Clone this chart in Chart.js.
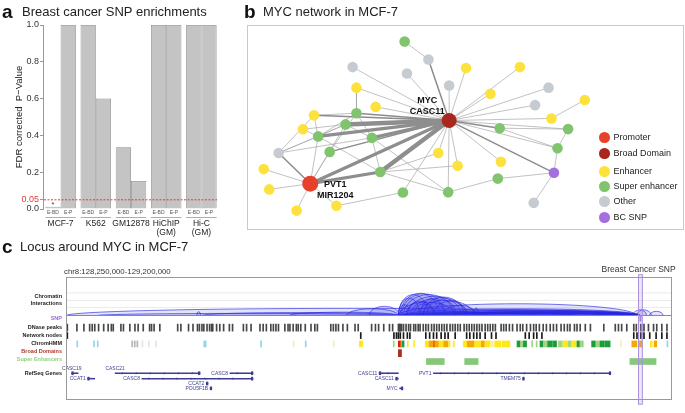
<!DOCTYPE html>
<html>
<head>
<meta charset="utf-8">
<title>Breast cancer SNP enrichments / MYC network / MYC locus</title>
<script src="https://cdn.jsdelivr.net/npm/chart.js@4.4.1/dist/chart.umd.min.js"></script>
<style>
  html, body { margin: 0; padding: 0; background: #fff; }
  body { position: relative; width: 685px; height: 413px; overflow: hidden;
         font-family: "Liberation Sans", Arial, Helvetica, sans-serif; color: #222; }
  canvas, .txt, .box, .dot { position: absolute; }
  .txt { white-space: nowrap; line-height: 1; }
  .letter { font-weight: bold; color: #111; }
  .box { border: 1px solid #c9c9c9; pointer-events: none; }
  .dot { border-radius: 50%; }
</style>
</head>
<body>
<canvas id="chartA" width="240" height="222" style="left:0;top:18px"></canvas>
<canvas id="chartB" width="436" height="204" style="left:248px;top:25px"></canvas>
<div class="box" style="left:247px;top:25px;width:435px;height:203px"></div>
<canvas id="chartC" width="685" height="151" style="left:0;top:262px"></canvas>
<script>
const FONT = '"Liberation Sans", Arial, sans-serif';

// ---------- panel a: SNP enrichment ----------
const groups = ['MCF-7', 'K562', 'GM12878', 'HiChIP', 'Hi-C'];
const groupNotes = ['', '', '', '(GM)', '(GM)'];
const testNames = ['E-BD', 'E-P'];
const fdrEBD = [0.012, 1.0, 0.336, 1.0, 1.0];
const fdrEP = [1.0, 0.6, 0.152, 1.0, 1.0];
const fdrCutoff = 0.05;
const yTicksA = [0, 0.05, 0.2, 0.4, 0.6, 0.8, 1.0];

// ---------- panel b: MYC network ----------
const nodeKinds = ['P', 'B', 'E', 'S', 'O', 'X'];
const nodeKindNames = ['Promoter', 'Broad Domain', 'Enhancer', 'Super enhancer', 'Other', 'BC SNP'];
const nodeKindColors = ['#e8412b', '#a8281d', '#fde23e', '#80c46d', '#c6cbd2', '#a56ee0'];
// [id, kind, layout x, layout y]
const networkNodes = [
  ['MYC', 'B', 200.5, 95], ['PVT1', 'P', 56.3, 163.5],
  ['g1', 'S', 154.3, 9.3], ['g2', 'S', 104.3, 87], ['g3', 'S', 93, 99.2], ['g4', 'S', 64.5, 112.2],
  ['g5', 'S', 120.3, 113.8], ['g6', 'S', 76.5, 129], ['g7', 'S', 129, 150.8], ['g8', 'S', 152.5, 173],
  ['g9', 'S', 199.5, 172.7], ['g10', 'S', 251, 158], ['g11', 'S', 253, 103.3], ['g12', 'S', 324, 104.3],
  ['g13', 'S', 313, 125],
  ['o1', 'O', 179, 28.7], ['o2', 'O', 100.3, 37], ['o3', 'O', 156.7, 44], ['o4', 'O', 200.5, 57],
  ['o5', 'O', 303.7, 59.3], ['o6', 'O', 289.7, 78.3], ['o7', 'O', 23.5, 130.2], ['o8', 'O', 288.3, 184.3],
  ['e1', 'E', 218, 38], ['e2', 'E', 274, 37], ['e3', 'E', 104.3, 59.3], ['e4', 'E', 243.3, 66],
  ['e5', 'E', 341.3, 72.7], ['e6', 'E', 124.2, 80.2], ['e7', 'E', 60.2, 89.3], ['e8', 'E', 306.7, 92.7],
  ['e9', 'E', 48.7, 104.5], ['e10', 'E', 189.2, 130.2], ['e11', 'E', 254.3, 139.7], ['e12', 'E', 209.3, 144],
  ['e13', 'E', 8, 147.7], ['e14', 'E', 13.7, 169.7], ['e15', 'E', 42.2, 192.7], ['e16', 'E', 83.5, 187.5],
  ['snp', 'X', 309.3, 151.7],
];
// [from, to, interaction strength class]
const networkEdges = [
  ['MYC', 'o1', 2], ['o1', 'g1', 1], ['MYC', 'o2', 1], ['MYC', 'o3', 1], ['MYC', 'o4', 1],
  ['MYC', 'e1', 1], ['MYC', 'e2', 1], ['MYC', 'e4', 1], ['MYC', 'o5', 1], ['MYC', 'o6', 1],
  ['MYC', 'e8', 1], ['e8', 'e5', 1], ['MYC', 'g12', 1], ['MYC', 'g11', 2], ['MYC', 'g13', 1],
  ['g13', 'g12', 1], ['g13', 'snp', 1], ['MYC', 'snp', 2], ['snp', 'g10', 1], ['snp', 'o8', 1],
  ['MYC', 'e11', 1], ['MYC', 'e12', 1], ['MYC', 'e10', 1], ['MYC', 'g9', 1], ['MYC', 'g8', 1],
  ['MYC', 'e3', 1], ['MYC', 'e6', 1], ['MYC', 'e7', 2], ['MYC', 'g2', 2], ['MYC', 'g3', 4],
  ['MYC', 'g4', 3], ['MYC', 'g5', 3], ['MYC', 'g6', 2], ['MYC', 'g7', 4], ['MYC', 'PVT1', 3],
  ['e3', 'g2', 1], ['e7', 'g2', 1], ['e7', 'g4', 1], ['e9', 'g4', 1], ['e9', 'g3', 1],
  ['g4', 'g3', 1], ['g4', 'g2', 1], ['g4', 'PVT1', 1], ['g4', 'g7', 1], ['g4', 'o7', 1],
  ['o7', 'PVT1', 2], ['o7', 'g3', 1], ['o7', 'g5', 1], ['o7', 'e7', 1], ['g6', 'PVT1', 1],
  ['g6', 'g2', 1], ['g5', 'g2', 1], ['g5', 'g7', 1], ['g5', 'g3', 1], ['g5', 'g9', 1],
  ['PVT1', 'g7', 3], ['PVT1', 'g3', 1], ['PVT1', 'e13', 1], ['PVT1', 'e14', 1], ['PVT1', 'e15', 1],
  ['PVT1', 'e16', 1], ['e16', 'g8', 1], ['g7', 'g9', 1], ['g7', 'e10', 1], ['g7', 'e12', 1],
  ['g9', 'g10', 1], ['g11', 'g12', 1], ['g11', 'g13', 1],
];
const hubLabels = [['MYC', ['MYC', 'CASC11']], ['PVT1', ['PVT1', 'MIR1204']]];

// ---------- panel c: locus (chr8, Mb) ----------
const regionStart = 128.25;
const regionEnd = 129.2;
const snpPos = 129.1505;
const dnasePeaks = [128.252, 128.267, 128.278, 128.287, 128.291, 128.295, 128.301, 128.309, 128.316, 128.321,
  128.324, 128.336, 128.340, 128.350, 128.358, 128.363, 128.371, 128.381, 128.384, 128.388, 128.397, 128.425,
  128.430, 128.442, 128.449, 128.456, 128.459, 128.463, 128.466, 128.471, 128.475, 128.478, 128.479, 128.480,
  128.486, 128.491, 128.497, 128.506, 128.511, 128.528, 128.533, 128.540, 128.554, 128.559, 128.564, 128.571,
  128.575, 128.579, 128.583, 128.593, 128.598, 128.601, 128.606, 128.611, 128.614, 128.618, 128.625, 128.634,
  128.640, 128.644, 128.665, 128.669, 128.673, 128.677, 128.684, 128.691, 128.703, 128.708, 128.729, 128.735,
  128.740, 128.748, 128.757, 128.762, 128.771, 128.772, 128.773, 128.774, 128.776, 128.779, 128.783, 128.787,
  128.790, 128.795, 128.798, 128.802, 128.805, 128.810, 128.814, 128.818, 128.823, 128.827, 128.831, 128.835,
  128.839, 128.843, 128.847, 128.852, 128.856, 128.860, 128.864, 128.868, 128.874, 128.878, 128.882, 128.886,
  128.890, 128.894, 128.898, 128.902, 128.907, 128.911, 128.915, 128.919, 128.923, 128.932, 128.936, 128.940,
  128.945, 128.950, 128.957, 128.962, 128.966, 128.972, 128.978, 128.983, 128.987, 128.992, 128.998, 129.003,
  129.009, 129.014, 129.019, 129.026, 129.031, 129.036, 129.040, 129.047, 129.051, 129.056, 129.064, 129.072,
  129.093, 129.111, 129.116, 129.121, 129.129, 129.140, 129.144, 129.151, 129.156, 129.163, 129.171, 129.176,
  129.184, 129.192];
const networkNodePeaks = [128.252, 128.712, 128.764, 128.768, 128.771, 128.774, 128.779, 128.785, 128.789,
  128.814, 128.820, 128.826, 128.831, 128.838, 128.844, 128.849, 128.860, 128.878, 128.883, 128.889, 128.894,
  128.899, 128.907, 128.917, 128.924, 128.970, 128.976, 128.983, 128.988, 128.996, 129.140, 129.145, 129.151,
  129.156, 129.165, 129.175, 129.184, 129.192];
// ChromHMM: [start, end, state]
const chromColors = { C: '#8ed6ea', R: '#b5b5b5', L: '#e2e2e2', l: '#f3eeb4', E: '#ffe81a', S: '#f6a800',
  P: '#dd1e10', T: '#1c9c3c', W: '#9fd67f' };
const chromSegments = [
  [128.267, 128.2685, 'C'], [128.293, 128.2945, 'C'], [128.299, 128.3005, 'C'], [128.353, 128.354, 'R'],
  [128.357, 128.358, 'R'], [128.361, 128.362, 'R'], [128.369, 128.370, 'L'], [128.379, 128.380, 'L'],
  [128.390, 128.391, 'L'], [128.466, 128.467, 'C'], [128.468, 128.469, 'C'], [128.555, 128.556, 'C'],
  [128.606, 128.607, 'l'], [128.625, 128.626, 'C'], [128.669, 128.670, 'l'], [128.710, 128.715, 'E'],
  [128.763, 128.764, 'W'], [128.771, 128.775, 'P'], [128.775, 128.777, 'S'], [128.777, 128.780, 'T'],
  [128.785, 128.786, 'E'], [128.795, 128.796, 'E'], [128.813, 128.818, 'E'], [128.819, 128.826, 'S'],
  [128.8265, 128.828, 'P'], [128.828, 128.834, 'S'], [128.835, 128.841, 'E'], [128.842, 128.849, 'S'],
  [128.850, 128.852, 'E'], [128.857, 128.858, 'E'], [128.873, 128.878, 'E'], [128.879, 128.890, 'S'],
  [128.891, 128.900, 'E'], [128.901, 128.906, 'S'], [128.907, 128.915, 'E'], [128.917, 128.920, 'l'],
  [128.922, 128.932, 'E'], [128.934, 128.946, 'E'], [128.957, 128.962, 'T'], [128.963, 128.966, 'W'],
  [128.967, 128.972, 'T'], [128.980, 128.981, 'W'], [128.987, 128.988, 'W'], [128.993, 128.998, 'T'],
  [128.999, 129.004, 'W'], [129.005, 129.012, 'T'], [129.013, 129.019, 'T'], [129.022, 129.028, 'W'],
  [129.029, 129.036, 'E'], [129.037, 129.042, 'W'], [129.043, 129.050, 'E'], [129.051, 129.055, 'T'],
  [129.056, 129.061, 'W'], [129.074, 129.080, 'T'], [129.081, 129.086, 'W'], [129.087, 129.094, 'T'],
  [129.095, 129.103, 'T'], [129.119, 129.120, 'l'], [129.137, 129.145, 'S'], [129.149, 129.153, 'S'],
  [129.166, 129.169, 'E'], [129.172, 129.176, 'S'], [129.192, 129.193, 'C'],
];
const broadDomains = [[128.771, 128.776]];
const superEnhancers = [[128.815, 128.843], [128.875, 128.896], [129.134, 129.175]];
// chromatin interactions: [anchor 1, anchor 2, interaction score]
const interactions = [
  [128.251, 129.150, 8.5], [128.455, 128.461, 4.5], [128.463, 128.771, 3.5], [128.300, 128.771, 2.5],
  [128.600, 128.771, 4], [128.690, 128.771, 8], [128.725, 128.773, 11], [128.771, 128.790, 13],
  [128.771, 128.805, 21], [128.771, 128.818, 25], [128.774, 128.835, 26.5], [128.776, 128.845, 26],
  [128.779, 128.858, 25], [128.785, 128.870, 23], [128.790, 128.880, 21], [128.800, 128.890, 18],
  [128.805, 128.843, 20], [128.815, 128.862, 19], [128.826, 128.878, 17], [128.840, 128.894, 12],
  [128.795, 128.826, 14], [128.889, 128.897, 9], [128.771, 129.144, 14], [128.774, 129.150, 8],
  [128.779, 129.145, 6], [128.790, 129.150, 5], [128.805, 129.140, 4], [128.815, 129.150, 6.5],
  [128.843, 129.145, 4.5], [128.862, 129.150, 5], [128.894, 129.144, 3.5], [128.771, 128.990, 3],
  [128.780, 129.146, 2.5], [128.830, 129.150, 3], [128.870, 129.146, 2], [128.775, 129.100, 3.5],
  [128.800, 129.050, 2.5], [128.772, 128.860, 16], [128.783, 128.828, 17], [128.810, 128.874, 22],
  [129.138, 129.168, 7], [129.145, 129.160, 6], [129.165, 129.186, 5],
];
// RefSeq genes: [name, start, end, strand]
const genes = [
  ['CASC19', 128.259, 128.269, '-'], ['CCAT1', 128.284, 128.295, '-'], ['CASC21', 128.327, 128.460, '+'],
  ['CASC8', 128.507, 128.543, '+'], ['CASC8', 128.369, 128.543, '+'], ['CCAT2', 128.470, 128.4725, '+'],
  ['POU5F1B', 128.476, 128.4785, '+'], ['CASC11', 128.741, 128.771, '-'], ['CASC11', 128.767, 128.771, '-'],
  ['MYC', 128.773, 128.778, '+'], ['PVT1', 128.826, 129.104, '+'], ['TMEM75', 128.966, 128.968, '+'],
];
const geneRow = [0, 1, 0, 0, 1, 2, 3, 0, 1, 3, 0, 1];
const geneLabelAbove = ['CASC19', 'CASC21'];

// ---------- helpers ----------
function addText(txt, x, cy, size, o) {
  o = o || {};
  const d = document.createElement('div');
  d.className = 'txt' + (o.bold ? ' letter' : '');
  d.textContent = txt;
  d.style.fontSize = size + 'px';
  d.style.top = (cy - 0.52 * size) + 'px';
  if (o.right) d.style.right = (685 - x) + 'px'; else d.style.left = x + 'px';
  if (o.color) d.style.color = o.color;
  document.body.appendChild(d);
}

addText('a', 2, 12, 19, { bold: true });
addText('Breast cancer SNP enrichments', 22, 12, 13);
addText('b', 244, 12, 19, { bold: true });
addText('MYC network in MCF-7', 263, 12, 13);
addText('c', 2, 247, 19, { bold: true });
addText('Locus around MYC in MCF-7', 20, 247, 13);
addText('chr8:128,250,000-129,200,000', 64, 272, 7.8, { color: '#333' });
addText('Breast Cancer SNP', 601.5, 269.5, 8.5, { color: '#333' });

// legend of panel b
const legendY = [137.3, 153.7, 171.7, 186.7, 201.7, 217.3];
nodeKindNames.forEach((name, i) => {
  const d = document.createElement('div');
  d.className = 'dot';
  d.style.cssText = `left:${604.3 - 5.3}px;top:${legendY[i] - 5.3}px;width:10.6px;height:10.6px;background:${nodeKindColors[i]}`;
  document.body.appendChild(d);
  addText(name, 613.5, legendY[i], 9, { color: '#222' });
});

// ---------- chart a ----------
const enrichLabels = {
  id: 'enrichLabels',
  afterDatasetsDraw(chart) {
    const { ctx, chartArea, scales } = chart;
    const y05 = scales.y.getPixelForValue(fdrCutoff);
    ctx.save();
    ctx.strokeStyle = '#e03a3a';
    ctx.lineWidth = 1;
    ctx.setLineDash([2, 1.5]);
    ctx.beginPath();
    ctx.moveTo(chartArea.left + 1, y05);
    ctx.lineTo(chartArea.right - 2, y05);
    ctx.stroke();
    ctx.setLineDash([]);

    const m0 = chart.getDatasetMeta(0);
    const m1 = chart.getDatasetMeta(1);
    const yb = chartArea.bottom;
    ctx.textAlign = 'center';
    ctx.textBaseline = 'middle';
    groups.forEach((g, i) => {
      const b0 = m0.data[i], b1 = m1.data[i];
      ctx.fillStyle = '#555';
      ctx.font = '5px ' + FONT;
      ctx.fillText(testNames[0], b0.x, yb + 4);
      ctx.fillText(testNames[1], b1.x, yb + 4);
      const l = b0.x - b0.width / 2, r = b1.x + b1.width / 2;
      ctx.strokeStyle = '#999';
      ctx.lineWidth = 0.8;
      ctx.beginPath();
      ctx.moveTo(l, yb + 8.5);
      ctx.lineTo(r, yb + 8.5);
      ctx.stroke();
      ctx.fillStyle = '#222';
      ctx.font = '8.5px ' + FONT;
      ctx.fillText(g, (l + r) / 2, yb + 14.5);
      if (groupNotes[i]) ctx.fillText(groupNotes[i], (l + r) / 2, yb + 24);
      if (fdrEBD[i] < fdrCutoff) {
        ctx.font = '7px ' + FONT;
        ctx.fillStyle = '#333';
        ctx.fillText('*', b0.x, b0.y - 2);
      }
    });
    ctx.restore();
  }
};

const barStyle = { backgroundColor: '#c4c4c4', borderColor: '#8b8b8b', borderWidth: 0.8 };

new Chart(document.getElementById('chartA'), {
  type: 'bar',
  data: {
    labels: groups,
    datasets: [
      { label: testNames[0], data: fdrEBD, ...barStyle },
      { label: testNames[1], data: fdrEP, ...barStyle },
    ],
  },
  options: {
    responsive: false,
    animation: false,
    layout: { padding: { top: 7, bottom: 31, right: 21, left: 0 } },
    plugins: { legend: { display: false }, tooltip: { enabled: false } },
    datasets: { bar: { categoryPercentage: 0.866, barPercentage: 1 } },
    scales: {
      x: { display: false },
      y: {
        min: 0,
        max: 1,
        afterBuildTicks: s => { s.ticks = yTicksA.map(v => ({ value: v })); },
        afterFit: s => { s.width = 43; },
        border: { color: '#999' },
        grid: { drawOnChartArea: false, tickLength: 3, color: '#999' },
        ticks: {
          autoSkip: false,
          padding: 1,
          font: { size: 9, family: FONT },
          color: c => (c.tick.value === fdrCutoff ? '#e03a3a' : '#333'),
          callback: v => (v === fdrCutoff ? '0.05' : v.toFixed(1)),
        },
        title: {
          display: true,
          text: 'FDR corrected  P\u2212Value',
          color: '#222',
          font: { size: 9.5, family: FONT },
          padding: { top: 13.5, bottom: 0 },
        },
      },
    },
  },
  plugins: [enrichLabels],
});

// ---------- chart b ----------
const nodeById = {};
networkNodes.forEach(n => { nodeById[n[0]] = n; });

const edgeWidth = { 1: 0.7, 2: 1.5, 3: 3.2, 4: 4.5 };
const edgeColor = { 1: '#a8a8a8', 2: '#8c8c8c', 3: '#8e8e8e', 4: '#8e8e8e' };
const edgeSets = [1, 2, 3, 4].map(w => {
  const pts = [];
  networkEdges.filter(e => e[2] === w).forEach(([a, b]) => {
    pts.push({ x: nodeById[a][2], y: nodeById[a][3] });
    pts.push({ x: nodeById[b][2], y: nodeById[b][3] });
    pts.push({ x: NaN, y: NaN });
  });
  return {
    data: pts, showLine: true, spanGaps: false, pointRadius: 0,
    borderColor: edgeColor[w], borderWidth: edgeWidth[w], order: 10 - w,
  };
});
const nodeRadius = { P: 8, B: 7.5 };
const nodeSets = nodeKinds.map((k, i) => ({
  data: networkNodes.filter(n => n[1] === k).map(n => ({ x: n[2], y: n[3] })),
  pointRadius: nodeRadius[k] || 5.3,
  pointBackgroundColor: nodeKindColors[i],
  pointBorderWidth: 0,
  showLine: false,
  order: 0,
}));

const hubLabelPlugin = {
  id: 'hubLabels',
  afterDatasetsDraw(chart) {
    const { ctx, scales: { x, y } } = chart;
    const offsets = { MYC: [-22, -20], PVT1: [25, 0.5] };
    ctx.save();
    ctx.font = 'bold 9px ' + FONT;
    ctx.fillStyle = '#111';
    ctx.textAlign = 'center';
    ctx.textBaseline = 'middle';
    hubLabels.forEach(([id, lines]) => {
      const n = nodeById[id];
      const px = x.getPixelForValue(n[2]) + offsets[id][0];
      const py = y.getPixelForValue(n[3]) + offsets[id][1];
      lines.forEach((t, k) => ctx.fillText(t, px, py + k * 11));
    });
    ctx.restore();
  }
};

new Chart(document.getElementById('chartB'), {
  type: 'scatter',
  data: { datasets: [...nodeSets, ...edgeSets] },
  options: {
    responsive: false,
    animation: false,
    layout: { padding: 0 },
    plugins: { legend: { display: false }, tooltip: { enabled: false } },
    scales: {
      x: { type: 'linear', min: 0, max: 436, display: false },
      y: { type: 'linear', min: 0, max: 204, reverse: true, display: false },
    },
  },
  plugins: [hubLabelPlugin],
});

// ---------- chart c ----------
const ARC_BASE = 35.5;
const gridLevels = [9.5, 18, 27];
const trackY = { snp: 39.3, dnase: 50, nodes: 59.5, chrom: 69.5, broad: 80.5, superE: 90.5 };
const geneRowY = [104.5, 111, 116.8, 122.6];
const trackLabels = [
  ['Chromatin', 13.3, '#222'], ['Interactions', 21.7, '#222'], ['SNP', 39.3, '#9b6fd8'],
  ['DNase peaks', 49.5, '#222'], ['Network nodes', 59, '#222'], ['ChromHMM', 68.5, '#222'],
  ['Broad Domains', 78, '#b0362c'], ['Super Enhancers', 87.5, '#8fd07c'], ['RefSeq Genes', 105.3, '#222'],
];

function barSet(items, y, thick, color) {
  return {
    data: items.map(([s, e]) => ({ x: [s, e], y })),
    barThickness: thick,
    backgroundColor: color,
    borderWidth: 0,
    borderSkipped: false,
    grouped: false,
    minBarLength: 1,
  };
}
const halfPeak = 0.0007;
const locusSets = [
  barSet([[snpPos - 0.001, snpPos + 0.001]], trackY.snp, 5, '#a07ad8'),
  barSet(dnasePeaks.map(p => [p - halfPeak, p + halfPeak]), trackY.dnase, 7, '#474747'),
  barSet(networkNodePeaks.map(p => [p - halfPeak, p + halfPeak]), trackY.nodes, 6, '#1a1a1a'),
  barSet(chromSegments, trackY.chrom, 6, chromSegments.map(s => chromColors[s[2]])),
  barSet(broadDomains, trackY.broad, 7, '#a8321f'),
  barSet(superEnhancers, trackY.superE, 6, '#86c77a'),
  {
    data: genes.map((g, i) => ({ x: [g[1], g[2]], y: geneRowY[geneRow[i]] })),
    barThickness: 0.9, backgroundColor: '#3d3d95', borderWidth: 0, grouped: false, minBarLength: 1,
  },
  {
    data: genes.map((g, i) => {
      const e = g[3] === '+' ? g[2] : g[1];
      return { x: [Math.min(e, Math.max(g[1], e - 0.0025)), Math.max(e, Math.min(g[2], e + 0.0025))], y: geneRowY[geneRow[i]] };
    }),
    barThickness: 3, backgroundColor: '#3d3d95', borderWidth: 0, grouped: false, minBarLength: 1.5,
  },
];

const locusPlugin = {
  id: 'locus',
  beforeDatasetsDraw(chart) {
    const { ctx, chartArea: a, scales: { x, y } } = chart;
    const base = y.getPixelForValue(ARC_BASE);
    ctx.save();
    ctx.strokeStyle = '#e4e4e4';
    ctx.lineWidth = 0.8;
    gridLevels.forEach(h => {
      const py = y.getPixelForValue(ARC_BASE - h);
      ctx.beginPath();
      ctx.moveTo(a.left, py);
      ctx.lineTo(a.right, py);
      ctx.stroke();
    });
    ctx.lineWidth = 0.7;
    ctx.strokeStyle = 'rgba(35,35,225,0.9)';
    ctx.fillStyle = 'rgba(70,70,235,0.15)';
    interactions.forEach(([s, e, h]) => {
      const x1 = x.getPixelForValue(s), x2 = x.getPixelForValue(e);
      const ry = base - y.getPixelForValue(ARC_BASE - h);
      ctx.beginPath();
      ctx.ellipse((x1 + x2) / 2, base, Math.max((x2 - x1) / 2, 0.5), ry, 0, Math.PI, 2 * Math.PI);
      ctx.closePath();
      ctx.fill();
      ctx.stroke();
    });
    ctx.strokeStyle = '#8a8a8a';
    ctx.lineWidth = 1;
    ctx.beginPath();
    ctx.moveTo(a.left, base);
    ctx.lineTo(a.right, base);
    ctx.stroke();
    ctx.restore();
  },
  afterDatasetsDraw(chart) {
    const { ctx, chartArea: a, scales: { x, y } } = chart;
    ctx.save();
    // gene labels and strand chevrons
    ctx.font = '5px ' + FONT;
    ctx.fillStyle = '#3d3d8f';
    ctx.strokeStyle = '#3d3d95';
    ctx.lineWidth = 0.6;
    ctx.textBaseline = 'middle';
    genes.forEach((g, i) => {
      const x1 = x.getPixelForValue(g[1]), x2 = x.getPixelForValue(g[2]);
      const py = y.getPixelForValue(geneRowY[geneRow[i]]);
      if (geneLabelAbove.includes(g[0])) {
        ctx.textAlign = 'center';
        ctx.fillText(g[0], x1, py - 4.8);
      } else {
        ctx.textAlign = 'right';
        ctx.fillText(g[0], x1 - 2, py + 0.3);
      }
      const dir = g[3] === '+' ? 1 : -1;
      for (let cx = x1 + 8; cx < x2 - 5; cx += 14) {
        ctx.beginPath();
        ctx.moveTo(cx - dir * 1.1, py - 1.2);
        ctx.lineTo(cx, py);
        ctx.lineTo(cx - dir * 1.1, py + 1.2);
        ctx.stroke();
      }
    });
    // breast cancer SNP highlight
    const hx1 = x.getPixelForValue(snpPos - 0.003), hx2 = x.getPixelForValue(snpPos + 0.003);
    ctx.fillStyle = 'rgba(175,150,235,0.22)';
    ctx.fillRect(hx1, a.top - 2.3, hx2 - hx1, a.height + 6.5);
    ctx.strokeStyle = '#a892de';
    ctx.lineWidth = 1;
    ctx.strokeRect(hx1, a.top - 2.3, hx2 - hx1, a.height + 6.5);
    // frame
    ctx.strokeStyle = '#9a9a9a';
    ctx.strokeRect(a.left + 0.5, a.top + 0.5, a.width - 1, a.height - 1);
    // track names
    ctx.font = 'bold 5.5px ' + FONT;
    ctx.textAlign = 'right';
    trackLabels.forEach(([t, ty, col]) => {
      ctx.fillStyle = col;
      ctx.fillText(t, a.left - 4, y.getPixelForValue(ty));
    });
    ctx.restore();
  }
};

new Chart(document.getElementById('chartC'), {
  type: 'bar',
  data: { datasets: locusSets },
  options: {
    indexAxis: 'y',
    responsive: false,
    animation: false,
    layout: { padding: { left: 66, right: 13, top: 15, bottom: 13 } },
    plugins: { legend: { display: false }, tooltip: { enabled: false } },
    scales: {
      x: { type: 'linear', min: regionStart, max: regionEnd, display: false },
      y: { type: 'linear', min: 0, max: 126, reverse: true, display: false },
    },
  },
  plugins: [locusPlugin],
});
</script>
</body>
</html>
